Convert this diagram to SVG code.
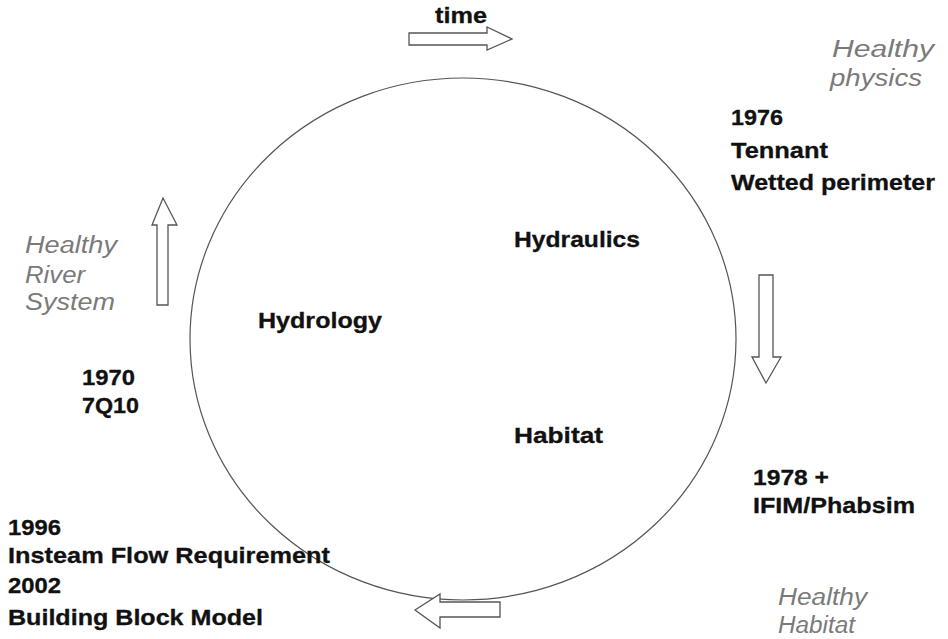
<svg xmlns="http://www.w3.org/2000/svg" width="948" height="639" viewBox="0 0 948 639">
<style>
.b{font-family:"Liberation Sans",Arial,sans-serif;font-weight:bold;font-size:22.5px;fill:#111;stroke:#111;stroke-width:0.3}
.g{font-family:"Liberation Sans",Arial,sans-serif;font-style:italic;font-size:23px;fill:#7a7a7a}
.arr{fill:#fff;stroke:#555;stroke-width:1.3}
.ring{fill:none;stroke:#555;stroke-width:1.2}
</style>
<rect width="948" height="639" fill="#fff"/>
<g id="cycle"><ellipse class="ring" cx="463" cy="339" rx="273" ry="261"/></g>
<g id="connectors">
<polygon class="arr" points="409,33 487,33 487,27 512,39 487,50 487,45 409,45"/>
<polygon class="arr" points="759,275 773,275 773,357 781,357 766,383 752,357 759,357"/>
<polygon class="arr" points="163,198 177,225 168,225 168,305 157,305 157,225 152,225"/>
<polygon class="arr" points="415,610 440,594 440,602 500,602 500,617 440,617 440,628"/>
</g>
<g id="time"><text class="b" x="435" y="23" textLength="52" lengthAdjust="spacingAndGlyphs">time</text></g>
<g id="healthy-physics">
<text class="g" x="832" y="57" textLength="102" lengthAdjust="spacingAndGlyphs">Healthy</text>
<text class="g" x="830" y="86" textLength="92" lengthAdjust="spacingAndGlyphs">physics</text>
</g>
<g id="tennant">
<text class="b" x="731" y="125" textLength="52" lengthAdjust="spacingAndGlyphs">1976</text>
<text class="b" x="731" y="158" textLength="97" lengthAdjust="spacingAndGlyphs">Tennant</text>
<text class="b" x="731" y="190" textLength="204" lengthAdjust="spacingAndGlyphs">Wetted perimeter</text>
</g>
<g id="hydraulics"><text class="b" x="514" y="247" textLength="126" lengthAdjust="spacingAndGlyphs">Hydraulics</text></g>
<g id="hydrology"><text class="b" x="258" y="328" textLength="124" lengthAdjust="spacingAndGlyphs">Hydrology</text></g>
<g id="habitat"><text class="b" x="514" y="443" textLength="89" lengthAdjust="spacingAndGlyphs">Habitat</text></g>
<g id="healthy-river">
<text class="g" x="25" y="253" textLength="92" lengthAdjust="spacingAndGlyphs">Healthy</text>
<text class="g" x="25" y="283" textLength="60" lengthAdjust="spacingAndGlyphs">River</text>
<text class="g" x="25" y="310" textLength="90" lengthAdjust="spacingAndGlyphs">System</text>
</g>
<g id="7q10">
<text class="b" x="82" y="385" textLength="53" lengthAdjust="spacingAndGlyphs">1970</text>
<text class="b" x="82" y="413" textLength="57" lengthAdjust="spacingAndGlyphs">7Q10</text>
</g>
<g id="ifim">
<text class="b" x="753" y="485" textLength="76" lengthAdjust="spacingAndGlyphs">1978 +</text>
<text class="b" x="753" y="513" textLength="162" lengthAdjust="spacingAndGlyphs">IFIM/Phabsim</text>
</g>
<g id="healthy-habitat">
<text class="g" x="778" y="605" textLength="89" lengthAdjust="spacingAndGlyphs">Healthy</text>
<text class="g" x="778" y="633" textLength="77" lengthAdjust="spacingAndGlyphs">Habitat</text>
</g>
<g id="bbm">
<text class="b" x="8" y="535" textLength="53" lengthAdjust="spacingAndGlyphs">1996</text>
<text class="b" x="8" y="563" textLength="322" lengthAdjust="spacingAndGlyphs">Insteam Flow Requirement</text>
<text class="b" x="8" y="593" textLength="53" lengthAdjust="spacingAndGlyphs">2002</text>
<text class="b" x="8" y="625" textLength="255" lengthAdjust="spacingAndGlyphs">Building Block Model</text>
</g>
</svg>
